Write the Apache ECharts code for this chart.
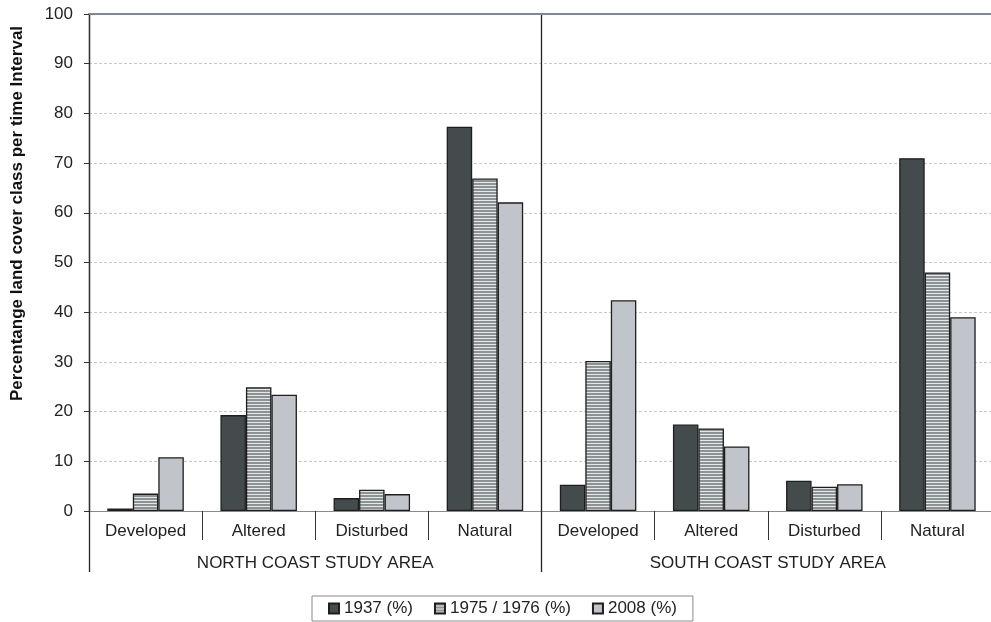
<!DOCTYPE html>
<html><head><meta charset="utf-8">
<script src="https://cdn.jsdelivr.net/npm/echarts@6/dist/echarts.min.js"></script>
<style>html,body{margin:0;padding:0;background:#fff}#c{width:991px;height:622px}</style>
</head><body><div id="c"></div>
<script>
const categories = ['Developed','Altered','Disturbed','Natural','Developed','Altered','Disturbed','Natural'];
const groups = ['NORTH COAST STUDY AREA','SOUTH COAST STUDY AREA'];
const seriesNames = ['1937 (%)','1975 / 1976 (%)','2008 (%)'];
const v1937 = [0.5, 19.3, 2.6, 77.3, 5.3, 17.4, 6.1, 71.0];
const v1975 = [3.5, 24.9, 4.3, 66.9, 30.2, 16.6, 4.9, 48.0];
const v2008 = [10.8, 23.4, 3.4, 62.1, 42.4, 13.0, 5.4, 39.0];
const yTicks = [0,10,20,30,40,50,60,70,80,90,100];

// stripe pattern
const pc = document.createElement('canvas');
pc.width = 4; pc.height = 3;
const pctx = pc.getContext('2d');
pctx.fillStyle = '#e6e7e8'; pctx.fillRect(0,0,4,3);
pctx.fillStyle = '#8d9294'; pctx.fillRect(0,0,4,2);
const stripe = {image: pc, repeat: 'repeat'};

const font = 'Liberation Sans, Arial, sans-serif';
const chart = echarts.init(document.getElementById('c'), null, {renderer:'canvas'});
const border = {borderColor:'#1e1e1e', borderWidth:1.3};
chart.setOption({
  animation:false,
  textStyle:{fontFamily:font},
  grid:{left:89, top:14, width:905, height:497, containLabel:false, outerBoundsMode:'none'},
  legend:{
    bottom:1, left:312, icon:'rect', itemWidth:10, itemHeight:10, itemGap:21, itemTextGap:4,
    padding:[4,16,4,16], borderColor:'#8a8a8a', borderWidth:1,
    textStyle:{fontSize:17, color:'#222', fontFamily:font},
    data:seriesNames
  },
  xAxis:[
    {type:'category', data:categories, position:'bottom',
     axisLine:{show:true, lineStyle:{color:'#8a8a8a', width:1.2}},
     axisTick:{show:true, length:29, lineStyle:{color:'#333'}, interval:0},
     axisLabel:{fontSize:17, color:'#222', margin:12, interval:0, fontFamily:font}},
    {type:'category', data:groups, position:'bottom', gridIndex:0,
     axisLine:{show:false},
     axisTick:{show:true, length:61, lineStyle:{color:'#222', width:1.3}, interval:0},
     axisLabel:{fontSize:17, color:'#222', margin:44, interval:0, fontFamily:font},
     splitLine:{show:true, lineStyle:{color:'#222', width:1.3}}},
    {type:'category', data:groups, position:'top',
     axisLine:{show:true, lineStyle:{color:'#7e8896', width:2}},
     axisTick:{show:false}, axisLabel:{show:false}}
  ],
  yAxis:{
    type:'value', min:0, max:100, interval:10,
    name:'Percentange land cover class per time Interval',
    nameLocation:'middle', nameGap:63, nameRotate:90,
    nameTextStyle:{fontSize:17, fontWeight:'bold', color:'#111', fontFamily:font, padding:[0,0,0,98]},
    axisLine:{show:true, lineStyle:{color:'#333', width:1.3}},
    axisTick:{show:true, length:5, lineStyle:{color:'#333'}},
    axisLabel:{fontSize:17, color:'#222', margin:16, fontFamily:font,
      formatter:function(v){return yTicks.indexOf(v)>=0?String(v):'';}},
    splitLine:{show:true, lineStyle:{color:'#c8c8c8', type:[3,2], width:1}}
  },
  series:[
    {name:seriesNames[0], type:'bar', data:v1937, barWidth:25.5, barGap:'0%',
     itemStyle:Object.assign({color:'#434b4d'}, border)},
    {name:seriesNames[1], type:'bar', data:v1975, barWidth:25.5, barGap:'0%',
     itemStyle:Object.assign({color:stripe}, border)},
    {name:seriesNames[2], type:'bar', data:v2008, barWidth:25.5, barGap:'0%',
     itemStyle:Object.assign({color:'#c1c4ca'}, border)}
  ]
});
</script></body></html>
